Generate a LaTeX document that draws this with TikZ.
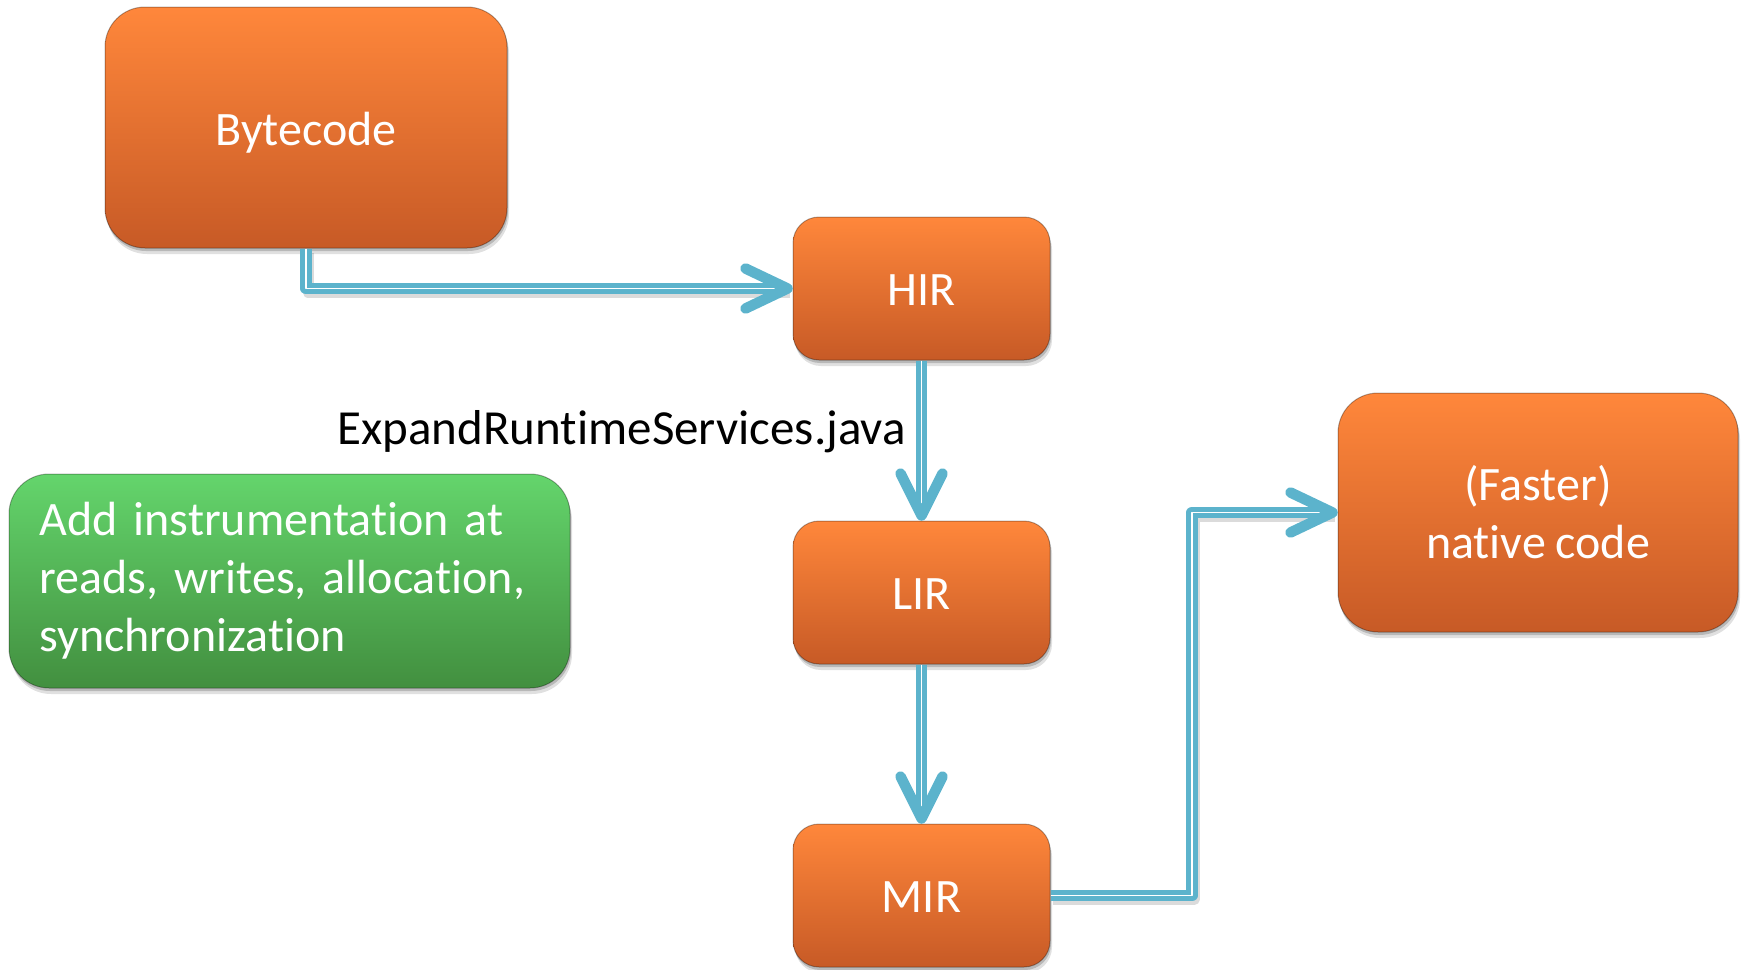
\documentclass[tikz,border=0pt]{standalone}
\usepackage{fontspec}
\setmainfont[Ligatures={NoCommon,NoRare,NoContextual},WordSpace=0.9]{Carlito}
\usetikzlibrary{shadows,calc}

\definecolor{orTop}{HTML}{FF873B}
\definecolor{orBot}{HTML}{C75A26}
\definecolor{grTop}{HTML}{64D56C}
\definecolor{grBot}{HTML}{428F3F}
\definecolor{linkblue}{HTML}{5CB3CC}

% shift box contents down without changing its size
\newcommand{\lowered}[2]{\raisebox{-#1}[\height][\depth]{#2}}
% plain "t" followed by "i", kept as two separate glyphs
\newcommand{\tI}{t\kern0pt i}

\tikzset{
  softshadow/.style={
    drop shadow={shadow xshift=1pt, shadow yshift=-3pt, opacity=.18, fill=black},
    drop shadow={shadow xshift=2pt, shadow yshift=-6pt, opacity=.12, fill=black}},
  bigtext/.style={font=\fontsize{48}{58}\selectfont},
  stage/.style={rectangle, top color=orTop, bottom color=orBot,
    draw=black, draw opacity=.3, line width=1pt, text=white, bigtext,
    align=center, inner sep=0pt, softshadow},
  notebox/.style={rectangle, top color=grTop, bottom color=grBot,
    draw=black, draw opacity=.3, line width=1pt, text=white, bigtext,
    align=left, inner sep=0pt, softshadow},
  link/.style={draw=linkblue, line width=5pt, double=white,
    double distance=1.5pt, line join=round},
  linkshade/.style={draw=black, opacity=.14, line width=11pt, line join=round,
    transform canvas={shift={(2pt,-4pt)}}},
  chevron/.style={draw=linkblue, line width=10.5pt, line cap=round, line join=round},
}

\begin{document}
\begin{tikzpicture}[x=1pt, y=-1pt]
  \useasboundingbox (0,0) rectangle (1745,969);

  % stages of the compiler pipeline
  \node[stage, minimum width=402pt, minimum height=241pt, rounded corners=40pt]
    (byte) at (306,127.5) {\lowered{5pt}{Bytecode}};
  \node[stage, minimum width=257pt, minimum height=143pt, rounded corners=26pt]
    (hir) at (921.5,288.5) {\lowered{2pt}{HIR}};
  \node[stage, minimum width=257pt, minimum height=143pt, rounded corners=26pt]
    (lir) at (921.5,592.5) {\lowered{2pt}{LIR}};
  \node[stage, minimum width=257pt, minimum height=143pt, rounded corners=26pt]
    (mir) at (921.5,895.5) {\lowered{2pt}{MIR}};
  \node[stage, minimum width=400pt, minimum height=239pt, rounded corners=40pt]
    (native) at (1538,512.5) {(Faster)\\na\tI ve code};

  % side note
  \node[notebox, minimum width=561pt, minimum height=214pt, rounded corners=40pt,
    text width=500pt]
    (note) at (289.5,581)
    {Add instrumenta\tI on at\\reads, writes, alloca\tI on,\\synchroniza\tI on};

  % pass label
  \node[font=\fontsize{49}{59}\selectfont, anchor=east, inner sep=0pt] (pass) at (906,432)
    {ExpandRun\tI meServices.java};

  % arrow end points and bend
  \coordinate (hirIn) at ($(hir.west)+(-5,0)$);
  \coordinate (lirIn) at ($(lir.north)+(0,-5)$);
  \coordinate (mirIn) at ($(mir.north)+(0,-5)$);
  \coordinate (natIn) at ($(native.west)+(-5,0)$);
  \coordinate (turn) at (1192,0);

  % connector shadows
  \draw[linkshade] (byte.south) |- (hirIn);
  \draw[linkshade] (mir.east) -- (mir.east -| turn) -- (turn |- natIn) -- (natIn);

  % connectors
  \draw[link] (byte.south) |- (hirIn);
  \draw[link] (hir.south) -- (lirIn);
  \draw[link] (lir.south) -- (mirIn);
  \draw[link] (mir.east) -- (mir.east -| turn) -- (turn |- natIn) -- (natIn);

  % open arrow heads
  \draw[chevron] ($(hirIn)+(-42,-20)$) -- (hirIn) -- ($(hirIn)+(-42,20)$);
  \draw[chevron] ($(lirIn)+(-21,-42)$) -- (lirIn) -- ($(lirIn)+(21,-42)$);
  \draw[chevron] ($(mirIn)+(-21,-42)$) -- (mirIn) -- ($(mirIn)+(21,-42)$);
  \draw[chevron] ($(natIn)+(-42,-20)$) -- (natIn) -- ($(natIn)+(-42,20)$);
\end{tikzpicture}
\end{document}
